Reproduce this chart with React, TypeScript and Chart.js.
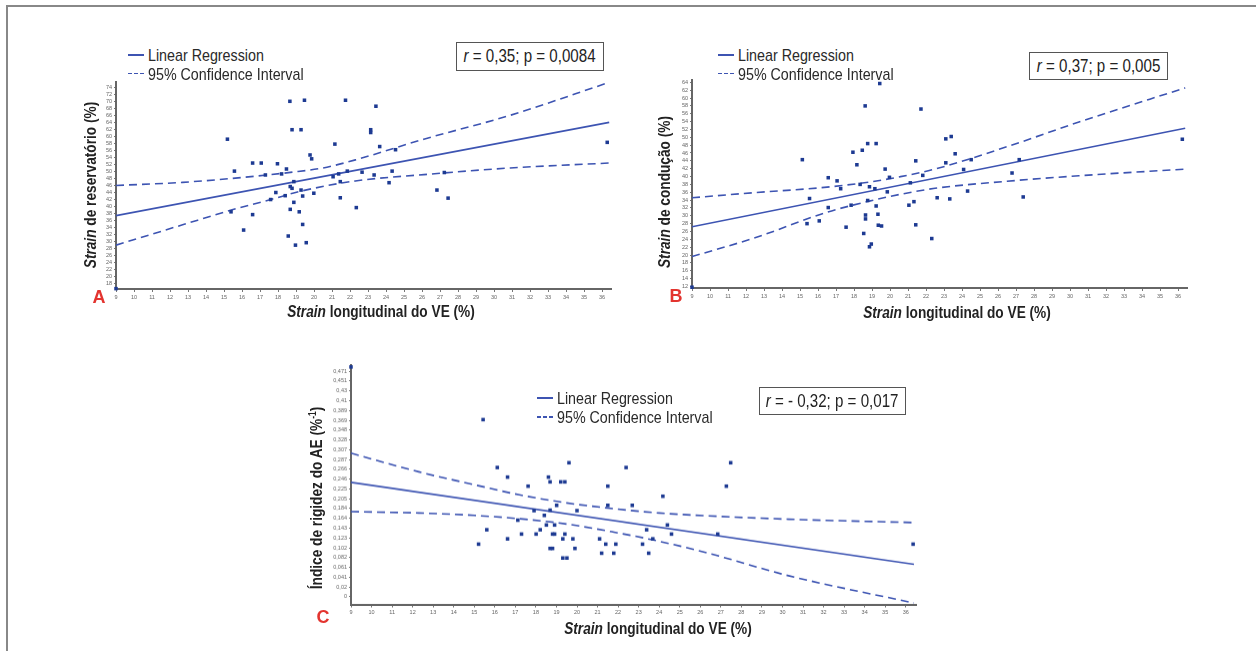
import React, { useEffect, useRef } from "react";
import { Chart, registerables } from "chart.js";
Chart.register(...registerables);

// ---------- shared ticks ----------
const xTicks = [9, 10, 11, 12, 13, 14, 15, 16, 17, 18, 19, 20, 21, 22, 23, 24, 25, 26, 27, 28, 29, 30, 31, 32, 33, 34, 35, 36];
const aYTicks = [18, 20, 22, 24, 26, 28, 30, 32, 34, 36, 38, 40, 42, 44, 46, 48, 50, 52, 54, 56, 58, 60, 62, 64, 66, 68, 70, 72, 74];
const bYTicks = [12, 14, 16, 18, 20, 22, 24, 26, 28, 30, 32, 34, 36, 38, 40, 42, 44, 46, 48, 50, 52, 54, 56, 58, 60, 62, 64];
const cYTicks = [0, 0.0205, 0.041, 0.0614, 0.0819, 0.1024, 0.1229, 0.1433, 0.1638, 0.1843, 0.2048, 0.2253, 0.2457, 0.2662, 0.2867, 0.3072, 0.3277, 0.3481, 0.3686, 0.3891, 0.4096, 0.4301, 0.4506, 0.471];
const cYLabels = ["0", "0,02", "0,041", "0,061", "0,082", "0,102", "0,123", "0,143", "0,164", "0,184", "0,205", "0,225", "0,246", "0,266", "0,287", "0,307", "0,328", "0,348", "0,369", "0,389", "0,41", "0,43", "0,451", "0,471"];

// ---------- Panel A: Strain de reservatório ----------
const aX = [9, 15.19, 15.58, 15.39, 16.09, 16.59, 16.59, 17.07, 17.3, 17.59, 17.88, 17.97, 18.2, 18.4, 18.47, 18.57, 18.66, 18.68, 18.68, 18.78, 18.78, 18.88, 18.88, 18.97, 19.18, 19.28, 19.28, 19.37, 19.37, 19.47, 19.57, 19.78, 19.87, 19.99, 21.06, 21.16, 21.37, 21.46, 21.46, 21.75, 21.85, 22.35, 22.67, 23.15, 23.15, 23.34, 23.44, 23.65, 24.17, 24.34, 24.53, 26.83, 27.24, 27.45, 36.29];
const aY = [16.6, 59.2, 50.1, 38.5, 33.3, 52.4, 37.7, 52.4, 49.0, 42.0, 44.0, 52.2, 49.3, 43.1, 50.7, 31.6, 70.0, 45.7, 39.2, 61.9, 45.2, 47.1, 41.2, 29.0, 38.5, 61.9, 44.7, 43.0, 34.9, 70.3, 29.7, 54.7, 53.6, 43.8, 48.5, 57.8, 49.3, 47.1, 42.5, 70.3, 50.1, 39.7, 49.8, 61.9, 61.1, 49.0, 68.6, 57.1, 46.8, 50.1, 56.2, 44.7, 49.7, 42.4, 58.3];
const aRegX = [9, 36.4];
const aRegY = [37.4, 64.0];
const aUpX = [9, 12.7, 15.4, 18.8, 20.5, 22.3, 26.1, 30.9, 36.4];
const aUpY = [46.0, 46.9, 48.0, 49.8, 51.0, 53.3, 59.2, 66.0, 75.4];
const aLoX = [9, 12.7, 15.4, 17.6, 19.2, 22.3, 26.1, 30.9, 36.4];
const aLoY = [29.0, 34.8, 39.0, 42.0, 44.3, 47.3, 49.1, 51.0, 52.4];

// ---------- Panel B: Strain de condução ----------
const bX = [9, 15.13, 15.39, 15.53, 16.07, 16.57, 16.57, 17.06, 17.26, 17.56, 17.84, 17.94, 18.16, 18.34, 18.46, 18.54, 18.62, 18.64, 18.64, 18.76, 18.76, 18.86, 18.86, 18.96, 19.16, 19.23, 19.23, 19.33, 19.35, 19.43, 19.53, 19.73, 19.85, 19.97, 21.05, 21.13, 21.33, 21.43, 21.43, 21.72, 21.82, 22.32, 22.62, 23.1, 23.1, 23.32, 23.4, 23.62, 24.09, 24.31, 24.51, 26.78, 27.18, 27.4, 36.24];
const bY = [11.8, 44.3, 28.0, 34.4, 28.7, 39.7, 32.1, 38.9, 36.9, 27.1, 32.7, 46.2, 43.0, 38.0, 46.7, 25.5, 58.0, 30.2, 29.2, 48.4, 33.9, 37.4, 22.1, 22.8, 36.9, 48.4, 32.5, 30.4, 27.6, 63.7, 27.4, 41.9, 36.1, 39.8, 32.7, 38.4, 33.6, 44.0, 27.7, 57.2, 40.3, 24.2, 34.6, 49.6, 43.5, 34.3, 50.2, 45.8, 41.8, 36.3, 44.3, 40.9, 44.3, 34.8, 49.5];
const bRegX = [9, 36.4];
const bRegY = [27.2, 52.3];
const bUpX = [9, 12.5, 16.5, 19, 20.5, 22.5, 26.5, 30.5, 36.4];
const bUpY = [34.6, 35.9, 37.3, 38.7, 39.9, 41.9, 47.6, 53.9, 62.6];
const bLoX = [9, 12.5, 16.5, 19, 20.5, 22.5, 26.5, 30.5, 36.4];
const bLoY = [19.6, 24.4, 30.9, 33.9, 35.4, 37.0, 38.8, 40.2, 41.9];

// ---------- Panel C: Índice de rigidez do AE ----------
const cX = [9, 15.21, 15.43, 15.61, 16.12, 16.62, 16.62, 17.12, 17.3, 17.62, 17.91, 18.01, 18.21, 18.41, 18.51, 18.61, 18.69, 18.69, 18.69, 18.81, 18.81, 18.91, 18.91, 19.01, 19.21, 19.31, 19.31, 19.41, 19.41, 19.51, 19.61, 19.8, 19.9, 20.0, 21.1, 21.2, 21.4, 21.5, 21.5, 21.79, 21.89, 22.39, 22.69, 23.19, 23.39, 23.49, 23.69, 24.18, 24.4, 24.6, 26.85, 27.27, 27.48, 36.36];
const cY = [0.48, 0.11, 0.37, 0.14, 0.27, 0.25, 0.121, 0.16, 0.131, 0.231, 0.18, 0.131, 0.14, 0.17, 0.15, 0.25, 0.24, 0.181, 0.101, 0.131, 0.101, 0.15, 0.131, 0.191, 0.24, 0.121, 0.081, 0.24, 0.131, 0.081, 0.28, 0.121, 0.101, 0.18, 0.121, 0.091, 0.11, 0.231, 0.191, 0.091, 0.11, 0.27, 0.191, 0.11, 0.14, 0.091, 0.121, 0.21, 0.15, 0.131, 0.131, 0.231, 0.28, 0.11];
const cRegX = [9, 36.4];
const cRegY = [0.239, 0.068];
const cUpX = [9, 12.3, 15, 17.2, 19.5, 21.8, 24, 26.4, 30.3, 36.4];
const cUpY = [0.3, 0.261, 0.234, 0.213, 0.196, 0.184, 0.175, 0.169, 0.162, 0.155];
const cLoX = [9, 12.3, 15, 17.2, 19.5, 21.8, 24, 26.4, 30.3, 36.4];
const cLoY = [0.178, 0.175, 0.17, 0.163, 0.152, 0.135, 0.116, 0.091, 0.044, -0.013];

const SANS = '"Liberation Sans", Arial, Helvetica, sans-serif';
const TICKFONT = '"Liberation Sans", Arial, sans-serif';
const SQ = 0.84; // horizontal squeeze to mimic a condensed face
const POINT = "#1d3a92";
const LINE = "#3d54b2";

type Rect = { l: number; t: number; r: number; b: number };
type Spec = {
  px: number[]; py: number[];
  regX: number[]; regY: number[];
  upX: number[]; upY: number[];
  loX: number[]; loY: number[];
  xMin: number; xMax: number; yMin: number; yMax: number;
  yTicks: number[]; yLabels?: string[];
  rect: Rect;
};

const zip = (xs: number[], ys: number[]) => xs.map((x, i) => ({ x, y: ys[i] }));

const PAD_L = 2, Y_W = 34, PAD_T = 8, PAD_R = 8, X_H = 16, PAD_B = 2;

function Panel({ spec }: { spec: Spec }) {
  const ref = useRef<HTMLCanvasElement>(null);
  useEffect(() => {
    if (!ref.current) return;
    const tickFont = { family: TICKFONT, size: 5.5 };
    const chart = new Chart(ref.current, {
      type: "scatter",
      data: {
        datasets: [
          {
            data: zip(spec.px, spec.py),
            pointStyle: "rect",
            pointRadius: 2.5,
            pointHoverRadius: 2.5,
            backgroundColor: POINT,
            borderWidth: 0,
            clip: false,
          } as any,
          {
            data: zip(spec.regX, spec.regY),
            showLine: true,
            borderColor: LINE,
            borderWidth: 1.6,
            pointRadius: 0,
          } as any,
          {
            data: zip(spec.upX, spec.upY),
            showLine: true,
            borderColor: LINE,
            borderWidth: 1.6,
            borderDash: [8, 5],
            pointRadius: 0,
            cubicInterpolationMode: "monotone",
          } as any,
          {
            data: zip(spec.loX, spec.loY),
            showLine: true,
            borderColor: LINE,
            borderWidth: 1.6,
            borderDash: [8, 5],
            pointRadius: 0,
            cubicInterpolationMode: "monotone",
          } as any,
        ],
      },
      options: {
        animation: false,
        responsive: true,
        maintainAspectRatio: false,
        layout: { padding: { left: PAD_L, top: PAD_T, right: PAD_R, bottom: PAD_B } },
        plugins: { legend: { display: false }, tooltip: { enabled: false } },
        scales: {
          x: {
            type: "linear",
            min: spec.xMin,
            max: spec.xMax,
            afterBuildTicks: (s: any) => { s.ticks = xTicks.map((v) => ({ value: v })); },
            afterFit: (s: any) => { s.height = X_H; },
            ticks: { font: tickFont, color: "#666", padding: 2, maxRotation: 0, autoSkip: false, callback: (v: any) => String(v) },
            grid: { drawOnChartArea: false, drawTicks: true, tickLength: 3, color: "#777" },
            border: { display: true, color: "#666", width: 2 },
          },
          y: {
            type: "linear",
            min: spec.yMin,
            max: spec.yMax,
            afterBuildTicks: (s: any) => { s.ticks = spec.yTicks.map((v) => ({ value: v })); },
            afterFit: (s: any) => { s.width = Y_W; },
            ticks: {
              font: tickFont, color: "#666", padding: 2, autoSkip: false,
              callback: (v: any, i: number) => (spec.yLabels ? spec.yLabels[i] : String(v)),
            },
            grid: { drawOnChartArea: false, drawTicks: true, tickLength: 2, color: "#777" },
            border: { display: true, color: "#666", width: 2 },
          },
        },
      } as any,
    });
    return () => chart.destroy();
  }, [spec]);
  const { l, t, r, b } = spec.rect;
  const left = l - Y_W - PAD_L;
  const top = t - PAD_T;
  const width = r - l + Y_W + PAD_L + PAD_R;
  const height = b - t + PAD_T + X_H + PAD_B;
  return (
    <div style={{ position: "absolute", left, top, width, height }}>
      <canvas ref={ref} />
    </div>
  );
}

const specA: Spec = {
  px: aX, py: aY, regX: aRegX, regY: aRegY, upX: aUpX, upY: aUpY, loX: aLoX, loY: aLoY,
  xMin: 9, xMax: 36.5, yMin: 16.5, yMax: 75.5, yTicks: aYTicks,
  rect: { l: 116, t: 82, r: 611, b: 289 },
};
const specB: Spec = {
  px: bX, py: bY, regX: bRegX, regY: bRegY, upX: bUpX, upY: bUpY, loX: bLoX, loY: bLoY,
  xMin: 9, xMax: 36.5, yMin: 11.6, yMax: 64.6, yTicks: bYTicks,
  rect: { l: 692, t: 80, r: 1187, b: 288 },
};
const specC: Spec = {
  px: cX, py: cY, regX: cRegX, regY: cRegY, upX: cUpX, upY: cUpY, loX: cLoX, loY: cLoY,
  xMin: 9, xMax: 36.5, yMin: -0.016, yMax: 0.484, yTicks: cYTicks, yLabels: cYLabels,
  rect: { l: 350.5, t: 365, r: 915.5, b: 603.5 },
};

const abs = (x: number, y: number, extra: React.CSSProperties = {}): React.CSSProperties => ({
  position: "absolute", left: x, top: y, ...extra,
});

function Legend({ x, y, textX, gap }: { x: number; y: number; textX: number; gap: number }) {
  const lineW = textX - x - 4;
  const row = (cy: number, dashed: boolean, label: string) => (
    <>
      <div
        style={abs(x, cy - 0.8, {
          width: lineW,
          height: 1.6,
          background: dashed
            ? `repeating-linear-gradient(90deg, ${LINE} 0 4px, transparent 4px 6px)`
            : LINE,
        })}
      />
      <div style={abs(textX, cy, {
        transform: `translateY(-50%) scaleX(${SQ})`, transformOrigin: "left center",
        fontFamily: SANS, fontSize: 17, color: "#2a2a2a", whiteSpace: "nowrap", lineHeight: "19px",
      })}>
        {label}
      </div>
    </>
  );
  return (
    <>
      {row(y, false, "Linear Regression")}
      {row(y + gap, true, "95% Confidence Interval")}
    </>
  );
}

function RBox({ l, t, w, h, children }: { l: number; t: number; w: number; h: number; children: React.ReactNode }) {
  return (
    <div
      style={abs(l, t, {
        width: w, height: h, boxSizing: "border-box", border: "1.5px solid #555",
        display: "flex", alignItems: "center", justifyContent: "center",
        fontFamily: SANS, fontSize: 18, color: "#222", whiteSpace: "nowrap", background: "#fff",
      })}
    >
      <span style={{ display: "inline-block", transform: `scaleX(${SQ})` }}>{children}</span>
    </div>
  );
}

function XTitle({ cx, cy }: { cx: number; cy: number }) {
  return (
    <div style={abs(cx, cy, { transform: `translate(-50%, -50%) scaleX(${SQ})`, fontFamily: SANS, fontWeight: "bold", fontSize: 16.3, color: "#222", whiteSpace: "nowrap" })}>
      <i>Strain</i> longitudinal do VE (%)
    </div>
  );
}

function YTitle({ cx, cy, children }: { cx: number; cy: number; children: React.ReactNode }) {
  return (
    <div style={abs(cx, cy, { transform: `translate(-50%, -50%) rotate(-90deg) scaleX(${SQ})`, fontFamily: SANS, fontWeight: "bold", fontSize: 16.3, color: "#222", whiteSpace: "nowrap", lineHeight: "18px" })}>
      {children}
    </div>
  );
}

function Letter({ cx, cy, ch }: { cx: number; cy: number; ch: string }) {
  return (
    <div style={abs(cx, cy, { transform: "translate(-50%, -50%)", fontFamily: SANS, fontWeight: "bold", fontSize: 18, color: "#e3342f" })}>
      {ch}
    </div>
  );
}

export default function App() {
  return (
    <div style={{ position: "fixed", left: 0, top: 0, width: 1256, height: 651, background: "#fff", overflow: "hidden" }}>
      <div style={abs(6, 5, { width: 1260, height: 660, borderLeft: "2px solid #888", borderTop: "2px solid #888" })} />

      <Panel spec={specA} />
      <Panel spec={specB} />
      <Panel spec={specC} />

      <Legend x={128} y={55} textX={148} gap={18.5} />
      <Legend x={718} y={55} textX={738} gap={18.5} />
      <Legend x={537} y={398} textX={557} gap={19} />

      <RBox l={456} t={42} w={148} h={29}><i>r</i> = 0,35; p = 0,0084</RBox>
      <RBox l={1029} t={52} w={139} h={28}><i>r</i> = 0,37; p = 0,005</RBox>
      <RBox l={759} t={387} w={147} h={28}><i>r</i> = - 0,32; p = 0,017</RBox>

      <XTitle cx={380.5} cy={311} />
      <XTitle cx={957} cy={312} />
      <XTitle cx={657.5} cy={628} />

      <YTitle cx={90} cy={185}><i>Strain</i> de reservatório (%)</YTitle>
      <YTitle cx={664} cy={192}><i>Strain</i> de condução (%)</YTitle>
      <YTitle cx={316} cy={498}>Índice de rigidez do AE (%<sup style={{ fontSize: 10, lineHeight: 0 }}>-1</sup>)</YTitle>

      <Letter cx={99} cy={297} ch="A" />
      <Letter cx={676} cy={296} ch="B" />
      <Letter cx={323} cy={617} ch="C" />
    </div>
  );
}
